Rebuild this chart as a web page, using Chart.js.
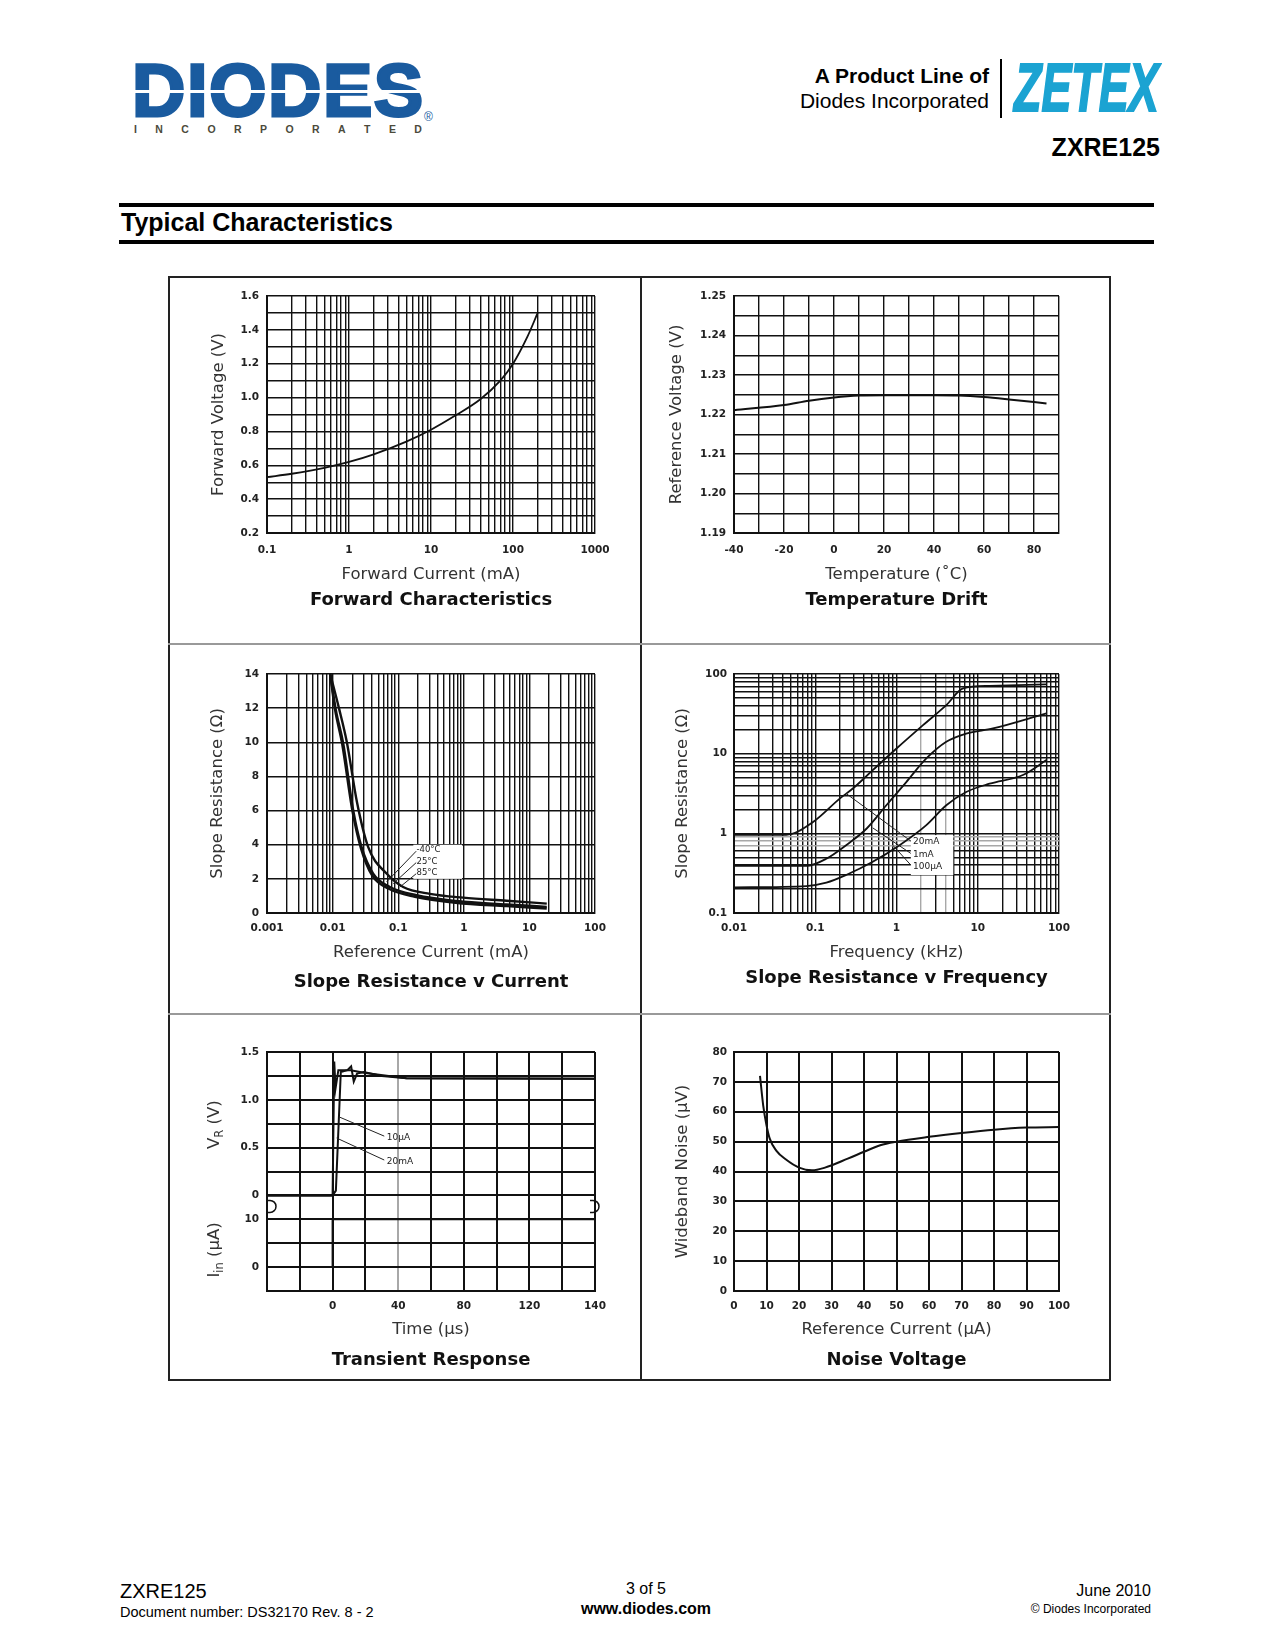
<!DOCTYPE html>
<html>
<head>
<meta charset="utf-8">
<title>ZXRE125 Typical Characteristics</title>
<script src="https://cdn.jsdelivr.net/npm/chart.js@4.4.1/dist/chart.umd.min.js"></script>
<style>
  html, body { margin: 0; padding: 0; background: #fff; }
  #page { position: relative; width: 1275px; height: 1650px; overflow: hidden; background: #fff;
          font-family: "Liberation Sans", Arial, Helvetica, sans-serif; color: #000; }
  .t { position: absolute; white-space: nowrap; }
  .bar { position: absolute; background: #000; }
  canvas { position: absolute; }
  #frame { position: absolute; left: 168px; top: 276px; width: 943px; height: 1105px;
           border: 2px solid #222; box-sizing: border-box; z-index: 2; }
  .div { position: absolute; z-index: 2; }
</style>
</head>
<body>
<div id="page">
  <!-- header -->
  <div class="t" style="left:132px; top:54px; font: bold 74px/74px 'Liberation Sans', Arial; letter-spacing:1.5px; color:#1a5b9f; -webkit-text-stroke: 3px #1a5b9f;">DIODES</div>
  <div class="bar" style="left:128px; top:90px; width:300px; height:3px; background:#fff;"></div>
  <div class="t" style="left:134px; top:123px; width:288px; display:flex; justify-content:space-between; font: bold 10.5px/12px 'Liberation Sans', Arial; color:#4b4a3b;">
    <span>I</span><span>N</span><span>C</span><span>O</span><span>R</span><span>P</span><span>O</span><span>R</span><span>A</span><span>T</span><span>E</span><span>D</span>
  </div>
  <div class="t" style="left:424px; top:110px; font: 12px/14px 'Liberation Sans', Arial; color:#1a5b9f;">®</div>

  <div class="t" style="right:286px; top:63px; font: bold 21px/25px 'Liberation Sans', Arial;">A Product Line of</div>
  <div class="t" style="right:286px; top:88px; font: 21px/25px 'Liberation Sans', Arial;">Diodes Incorporated</div>
  <div class="bar" style="left:1000px; top:59px; width:2px; height:59px;"></div>
  <div class="t" style="left:1014px; top:53px; font: italic bold 68px/68px 'Liberation Sans', Arial; color:#1ba3d2; -webkit-text-stroke: 2px #1ba3d2; transform: scaleX(0.66); transform-origin: 0 0;">ZETEX</div>
  <div class="t" style="right:115px; top:133px; font: bold 25px/28px 'Liberation Sans', Arial;">ZXRE125</div>

  <div class="bar" style="left:119px; top:203px; width:1035px; height:4px;"></div>
  <div class="t" style="left:121px; top:208px; font: bold 25px/28px 'Liberation Sans', Arial;">Typical Characteristics</div>
  <div class="bar" style="left:119px; top:240px; width:1035px; height:4px;"></div>

  <!-- chart panel frame -->
  <div id="frame"></div>
  <div class="div" style="left:640px; top:276px; width:2px; height:1105px; background:#222;"></div>
  <div class="div" style="left:168px; top:643px; width:943px; height:2px; background:#999;"></div>
  <div class="div" style="left:168px; top:1013px; width:943px; height:2px; background:#999;"></div>

  <!-- footer -->
  <div class="t" style="left:120px; top:1579px; font: 20px/24px 'Liberation Sans', Arial;">ZXRE125</div>
  <div class="t" style="left:120px; top:1603px; font: 14.5px/18px 'Liberation Sans', Arial;">Document number: DS32170 Rev. 8 - 2</div>
  <div class="t" style="left:546px; width:200px; text-align:center; top:1580px; font: 16px/18px 'Liberation Sans', Arial;">3 of 5</div>
  <div class="t" style="left:546px; width:200px; text-align:center; top:1599px; font: bold 16px/20px 'Liberation Sans', Arial;">www.diodes.com</div>
  <div class="t" style="right:124px; top:1581px; font: 16px/20px 'Liberation Sans', Arial;">June 2010</div>
  <div class="t" style="right:124px; top:1601px; font: 12px/16px 'Liberation Sans', Arial;">© Diodes Incorporated</div>
</div>

<script>
// ---- Forward Characteristics
const fwdCurrent = [0.1, 0.2, 0.5, 1, 2, 5, 10, 20, 40, 70, 100, 150, 200];          // mA
const fwdVoltage = [0.53, 0.55, 0.585, 0.62, 0.665, 0.74, 0.81, 0.895, 0.99, 1.1, 1.2, 1.36, 1.5];
const fwdXTicks = [0.1, 1, 10, 100, 1000];
const fwdYTicks = [0.2, 0.4, 0.6, 0.8, 1.0, 1.2, 1.4, 1.6];
const fwdYText = ['0.2', '0.4', '0.6', '0.8', '1.0', '1.2', '1.4', '1.6'];

// ---- Temperature Drift
const driftTemp = [-40, -20, -10, 0, 10, 20, 30, 40, 50, 60, 70, 85];
const driftVref = [1.2211, 1.2224, 1.2235, 1.2243, 1.2248, 1.2249, 1.2249, 1.2249, 1.2248, 1.2244, 1.2238, 1.2228];
const driftXTicks = [-40, -20, 0, 20, 40, 60, 80];
const driftYTicks = [1.19, 1.20, 1.21, 1.22, 1.23, 1.24, 1.25];
const driftYText = ['1.19', '1.20', '1.21', '1.22', '1.23', '1.24', '1.25'];

// ---- Slope Resistance v Current (three temperatures)
const srcCurM40 = [0.0092, 0.0125, 0.0165, 0.0235, 0.0348, 0.0665, 0.119, 0.305, 0.98, 4.5, 18.4];
const srcResM40 = [14, 12, 10, 6.5, 3.87, 2.31, 1.52, 1.12, 0.9, 0.72, 0.55];
const srcCur25 = [0.0092, 0.0112, 0.0145, 0.0206, 0.0276, 0.0415, 0.0746, 0.19, 0.78, 4.5, 18.4];
const srcRes25 = [14, 11.9, 9.94, 6.02, 3.87, 2.31, 1.52, 1.04, 0.7, 0.5, 0.36];
const srcCur85 = [0.0092, 0.0108, 0.014, 0.02, 0.027, 0.04, 0.072, 0.18, 0.75, 4.5, 18.4];
const srcRes85 = [14, 12, 9.9, 6.0, 3.8, 2.2, 1.42, 0.95, 0.6, 0.4, 0.26];
const srcXTicks = [0.001, 0.01, 0.1, 1, 10, 100];
const srcYTicks = [0, 2, 4, 6, 8, 10, 12, 14];
const srcNames = ['-40°C', '25°C', '85°C'];

// ---- Slope Resistance v Frequency (three currents)
const srfFreq20m = [0.01, 0.044, 0.094, 0.2, 0.29, 0.51, 1.0, 2.12, 4.1, 6.6, 14, 70];
const srfRes20m = [0.96, 0.96, 1.39, 2.73, 3.65, 6.2, 11.6, 22.8, 40.7, 66, 71, 74];
const srfFreq1m = [0.01, 0.078, 0.137, 0.24, 0.43, 0.75, 1.32, 2.33, 4.1, 7.2, 15.4, 70];
const srfRes1m = [0.39, 0.39, 0.48, 0.71, 1.15, 2.25, 4.4, 8.7, 14.1, 17.9, 20.7, 32];
const srfFreq100u = [0.01, 0.078, 0.137, 0.24, 0.51, 1.09, 2.33, 4.1, 7.2, 14, 36, 70];
const srfRes100u = [0.21, 0.218, 0.24, 0.30, 0.44, 0.71, 1.27, 2.25, 3.3, 4.2, 5.4, 8.3];
const srfXTicks = [0.01, 0.1, 1, 10, 100];
const srfYTicks = [0.1, 1, 10, 100];
const srfNames = ['20mA', '1mA', '100µA'];

// ---- Transient Response
const trTime20m = [-40, 0, 1.0, 1.8, 3.5, 11, 20, 45, 160];                          // µs
const trVolt20m = [0, 0, 1.40, 1.12, 1.31, 1.31, 1.28, 1.225, 1.22];
const trTime10u = [-40, 0, 2, 5, 9, 11.3, 12.9, 14.9, 19, 30, 45, 160];
const trVolt10u = [0, 0, 0.05, 1.29, 1.31, 1.35, 1.19, 1.275, 1.29, 1.25, 1.225, 1.22];
const trTimeIin = [-40, 0, 0, 160];
const trIin = [0, 0, 10, 10];                                                          // µA
const trXTicks = [0, 40, 80, 120, 160];
const trXText = ['0', '40', '80', '120', '140'];
const trYTicks = [1.5, 1.0, 0.5, 0, -0.25, -0.75];
const trYText = ['1.5', '1.0', '0.5', '0', '10', '0'];
const trNames = ['10µA', '20mA'];

// ---- Noise Voltage
const noiseCurrent = [8, 9, 10, 11, 13, 16, 20, 24, 28, 35, 40, 45, 50, 60, 70, 80, 90, 100];   // µA
const noiseVolt = [72, 62, 55.5, 51, 47, 44, 41.3, 40.4, 41.3, 44.3, 46.6, 48.8, 50, 51.6, 52.9, 54, 54.7, 54.9];
const noiseXTicks = [0, 10, 20, 30, 40, 50, 60, 70, 80, 90, 100];
const noiseYTicks = [0, 10, 20, 30, 40, 50, 60, 70, 80];

const TICK = 10.5, AXIS = 16.5, TITLE = 18;
Chart.defaults.font.family = "'DejaVu Sans', 'Liberation Sans', sans-serif";
Chart.defaults.color = '#222';

const page = document.getElementById('page');
const frame = document.getElementById('frame');

function range(lo, hi, step) {
  const out = [];
  const n = Math.round((hi - lo) / step);
  for (let i = 0; i <= n; i++) out.push(+(lo + i * step).toFixed(6));
  return out;
}

function logGrid(lo, hi) {
  const out = [];
  for (let d = lo; d < hi * 0.999; d *= 10)
    for (let m = 1; m < 10; m++) out.push(+(d * m).toPrecision(4));
  out.push(hi);
  return out;
}

const pts = (xs, ys) => xs.map((x, i) => ({x, y: ys[i]}));
const near = (a, b) => Math.abs(a - b) < 1e-9 + Math.abs(b) * 1e-6;
// I_in shares the V_R axis: 0 µA sits at -0.75, 10 µA at -0.25
const iinAxis = i => -0.75 + i / 20;

// little extras: callout boxes, leader lines, tiny labels, split axis titles
const notes = {
  id: 'notes',
  beforeDatasetsDraw(chart, args, o) {
    const {ctx, scales: {x, y}} = chart;
    ctx.save();
    ctx.fillStyle = '#fff';
    (o.boxes || []).forEach(b => {
      const x0 = x.getPixelForValue(b[0]), x1 = x.getPixelForValue(b[1]);
      const y0 = y.getPixelForValue(b[3]), y1 = y.getPixelForValue(b[2]);
      ctx.fillRect(x0, y0, x1 - x0, y1 - y0);
    });
    ctx.restore();
  },
  afterDatasetsDraw(chart, args, o) {
    const {ctx, scales: {x, y}} = chart;
    const X = v => x.getPixelForValue(v), Y = v => y.getPixelForValue(v);
    ctx.save();
    ctx.strokeStyle = '#222';
    ctx.lineWidth = 1;
    (o.leaders || []).forEach(l => {
      ctx.beginPath();
      ctx.moveTo(X(l[0]), Y(l[1]));
      ctx.lineTo(X(l[2]), Y(l[3]));
      ctx.stroke();
    });
    ctx.fillStyle = '#222';
    ctx.font = (o.size || 9) + "px 'DejaVu Sans'";
    ctx.textBaseline = 'middle';
    (o.labels || []).forEach(t => ctx.fillText(t[0], X(t[1]), Y(t[2])));

    if (o.breakAt != null) {
      const yy = Y(o.breakAt);
      ctx.lineWidth = 1.5;
      ctx.strokeStyle = '#111';
      [x.left, x.right - 5].forEach(x0 => {
        ctx.beginPath();
        ctx.moveTo(x0, yy - 6);
        ctx.lineTo(x0 + 3, yy - 6);
        ctx.arc(x0 + 3, yy, 6, -Math.PI / 2, Math.PI / 2);
        ctx.lineTo(x0, yy + 6);
        ctx.stroke();
      });
    }

    (o.side || []).forEach(s => {
      ctx.save();
      ctx.translate(s.x, Y(s.v));
      ctx.rotate(-Math.PI / 2);
      ctx.fillStyle = '#333';
      const fonts = s.parts.map(p => (p[1] ? AXIS * 0.7 : AXIS) + "px 'DejaVu Sans'");
      let w = 0;
      s.parts.forEach((p, i) => { ctx.font = fonts[i]; w += ctx.measureText(p[0]).width; });
      let cx = -w / 2;
      s.parts.forEach((p, i) => {
        ctx.font = fonts[i];
        ctx.fillText(p[0], cx, p[1] ? 5 : 0);
        cx += ctx.measureText(p[0]).width;
      });
      ctx.restore();
    });
    ctx.restore();
  }
};

function axisOpts(a, lineWidth) {
  const label = v => {
    const i = a.ticks.findIndex(t => near(v, t));
    return i < 0 ? '' : (a.text ? a.text[i] : String(a.ticks[i]));
  };
  return {
    type: a.type || 'linear',
    min: a.min,
    max: a.max,
    afterBuildTicks: s => { s.ticks = a.grid.map(value => ({value})); },
    grid: {
      drawTicks: false,
      lineWidth,
      color: c => (c.tick && (a.soft || []).some(v => near(c.tick.value, v))) ? '#a8a8a8' : '#111'
    },
    border: {display: true, color: '#111', width: 2},
    ticks: {autoSkip: false, maxRotation: 0, minRotation: 0, color: '#222',
            font: {size: TICK, weight: 'bold'}, callback: label}
  };
}

function makeChart(g, spec) {
  const [cx0, cy0, cx1, cy1] = g.cell;
  const [l, t, r, b] = g.plot;
  const tickLH = TICK * 1.2, axisLH = AXIS * 1.2, titleLH = TITLE * 1.2;
  const xh = g.titleY - b - titleLH / 2;

  const cv = document.createElement('canvas');
  cv.width = cx1 - cx0;
  cv.height = cy1 - cy0;
  cv.style.left = cx0 + 'px';
  cv.style.top = cy0 + 'px';
  page.insertBefore(cv, frame);

  const x = axisOpts(spec.x, spec.gridWidth);
  x.afterFit = s => { s.height = xh; };
  x.ticks.padding = g.xTickY - b - tickLH / 2;
  x.title = {display: true, text: spec.x.title, color: '#333', font: {size: AXIS},
             padding: {top: 0, bottom: b + xh - axisLH / 2 - g.xTitleY}};

  const y = axisOpts(spec.y, spec.gridWidth);
  y.afterFit = s => { s.width = l - cx0; };
  y.ticks.padding = l - g.yLabelR;
  y.title = {display: !!spec.y.title, text: spec.y.title || '', color: '#333', font: {size: AXIS},
             padding: {top: g.yTitleX - cx0 - axisLH / 2, bottom: 0}};

  return new Chart(cv, {
    type: 'line',
    data: {
      datasets: spec.series.map(s => ({
        data: s.data,
        borderColor: '#111',
        borderWidth: s.width || spec.lineWidth || 2,
        pointRadius: 0,
        fill: false,
        tension: 0,
        cubicInterpolationMode: s.straight ? 'default' : 'monotone'
      }))
    },
    options: {
      responsive: false,
      animation: false,
      devicePixelRatio: 1,
      events: [],
      layout: {padding: {left: 0, top: t - cy0, right: cx1 - r, bottom: 0}},
      scales: {x, y},
      plugins: {
        legend: {display: false},
        tooltip: {enabled: false},
        title: {display: true, text: spec.title, position: 'bottom', fullSize: false, color: '#111',
                font: {size: TITLE, weight: 'bold'},
                padding: {top: 0, bottom: (cy1 - cy0) - (b - cy0) - xh - titleLH}},
        notes: spec.notes || {}
      }
    },
    plugins: [notes]
  });
}

const G = {
  fwd:   {cell: [168, 276, 641, 644],   plot: [267, 296, 595, 533],   yTitleX: 219, yLabelR: 259, xTickY: 550,  xTitleY: 575,  titleY: 600},
  drift: {cell: [641, 276, 1111, 644],  plot: [734, 296, 1059, 533],  yTitleX: 677, yLabelR: 726, xTickY: 550,  xTitleY: 575,  titleY: 600},
  src:   {cell: [168, 644, 641, 1014],  plot: [267, 674, 595, 913],   yTitleX: 218, yLabelR: 259, xTickY: 928,  xTitleY: 953,  titleY: 982},
  srf:   {cell: [641, 644, 1111, 1014], plot: [734, 674, 1059, 913],  yTitleX: 683, yLabelR: 727, xTickY: 928,  xTitleY: 953,  titleY: 978},
  tr:    {cell: [168, 1014, 641, 1381], plot: [267, 1052, 595, 1291], yTitleX: 215, yLabelR: 259, xTickY: 1306, xTitleY: 1330, titleY: 1360},
  noise: {cell: [641, 1014, 1111, 1381], plot: [734, 1052, 1059, 1291], yTitleX: 683, yLabelR: 727, xTickY: 1306, xTitleY: 1330, titleY: 1360}
};

makeChart(G.fwd, {
  title: 'Forward Characteristics',
  gridWidth: 1.4,
  lineWidth: 1.8,
  x: {type: 'logarithmic', min: 0.1, max: 1000, grid: logGrid(0.1, 1000), ticks: fwdXTicks, title: 'Forward Current (mA)'},
  y: {min: 0.2, max: 1.6, grid: range(0.2, 1.6, 0.1), ticks: fwdYTicks, text: fwdYText, title: 'Forward Voltage (V)'},
  series: [{data: pts(fwdCurrent, fwdVoltage)}]
});

makeChart(G.drift, {
  title: 'Temperature Drift',
  gridWidth: 1.4,
  x: {min: -40, max: 90, grid: range(-40, 90, 10), ticks: driftXTicks, title: 'Temperature (˚C)'},
  y: {min: 1.19, max: 1.25, grid: range(1.19, 1.25, 0.005), ticks: driftYTicks, text: driftYText, title: 'Reference Voltage (V)'},
  series: [{data: pts(driftTemp, driftVref)}]
});

makeChart(G.src, {
  title: 'Slope Resistance v Current',
  gridWidth: 1.4,
  lineWidth: 2.4,
  x: {type: 'logarithmic', min: 0.001, max: 100, grid: logGrid(0.001, 100), ticks: srcXTicks, title: 'Reference Current (mA)'},
  y: {min: 0, max: 14, grid: range(0, 14, 2), ticks: srcYTicks, title: 'Slope Resistance (Ω)'},
  series: [{data: pts(srcCurM40, srcResM40)}, {data: pts(srcCur25, srcRes25)}, {data: pts(srcCur85, srcRes85)}],
  notes: {
    size: 8.5,
    boxes: [[0.17, 0.94, 2, 4]],
    leaders: [[0.188, 3.62, 0.0665, 1.82], [0.188, 2.95, 0.084, 1.72], [0.188, 2.3, 0.106, 1.52]],
    labels: [[srcNames[0], 0.19, 3.68], [srcNames[1], 0.19, 2.99], [srcNames[2], 0.19, 2.35]]
  }
});

makeChart(G.srf, {
  title: 'Slope Resistance v Frequency',
  gridWidth: 1.4,
  lineWidth: 1.8,
  x: {type: 'logarithmic', min: 0.01, max: 100, grid: logGrid(0.01, 100), ticks: srfXTicks, soft: [2, 4], title: 'Frequency (kHz)'},
  y: {type: 'logarithmic', min: 0.1, max: 100, grid: logGrid(0.1, 100), ticks: srfYTicks, soft: [0.7, 0.8, 0.9], title: 'Slope Resistance (Ω)'},
  series: [{data: pts(srfFreq20m, srfRes20m)}, {data: pts(srfFreq1m, srfRes1m)}, {data: pts(srfFreq100u, srfRes100u)}],
  notes: {
    size: 9,
    boxes: [[1.5, 5, 0.3, 0.95]],
    leaders: [[1.5, 0.8, 0.24, 3.16], [1.5, 0.56, 0.51, 1.17], [1.5, 0.4, 0.9, 0.71]],
    labels: [[srfNames[0], 1.6, 0.78], [srfNames[1], 1.6, 0.54], [srfNames[2], 1.6, 0.38]]
  }
});

makeChart(G.tr, {
  title: 'Transient Response',
  gridWidth: 2,
  x: {min: -40, max: 160, grid: range(-40, 160, 20), ticks: trXTicks, text: trXText, soft: [40], title: 'Time (µs)'},
  y: {min: -1, max: 1.5, grid: range(-1, 1.5, 0.25), ticks: trYTicks, text: trYText},
  series: [
    {data: pts(trTime20m, trVolt20m), straight: true},
    {data: pts(trTime10u, trVolt10u), straight: true},
    {data: pts(trTimeIin, trIin.map(iinAxis)), straight: true}
  ],
  notes: {
    size: 9,
    leaders: [[31.5, 0.62, 4.5, 0.817], [31.5, 0.37, 2.45, 0.6]],
    labels: [[trNames[0], 33, 0.6], [trNames[1], 33, 0.355]],
    breakAt: -0.115,
    side: [
      {x: 46.7, v: 0.74, parts: [['V', false], ['R', true], [' (V)', false]]},
      {x: 46.7, v: -0.57, parts: [['I', false], ['in', true], [' (µA)', false]]}
    ]
  }
});

makeChart(G.noise, {
  title: 'Noise Voltage',
  gridWidth: 2,
  x: {min: 0, max: 100, grid: range(0, 100, 10), ticks: noiseXTicks, title: 'Reference Current (µA)'},
  y: {min: 0, max: 80, grid: range(0, 80, 10), ticks: noiseYTicks, title: 'Wideband Noise (µV)'},
  series: [{data: pts(noiseCurrent, noiseVolt)}]
});
</script>
</body>
</html>
